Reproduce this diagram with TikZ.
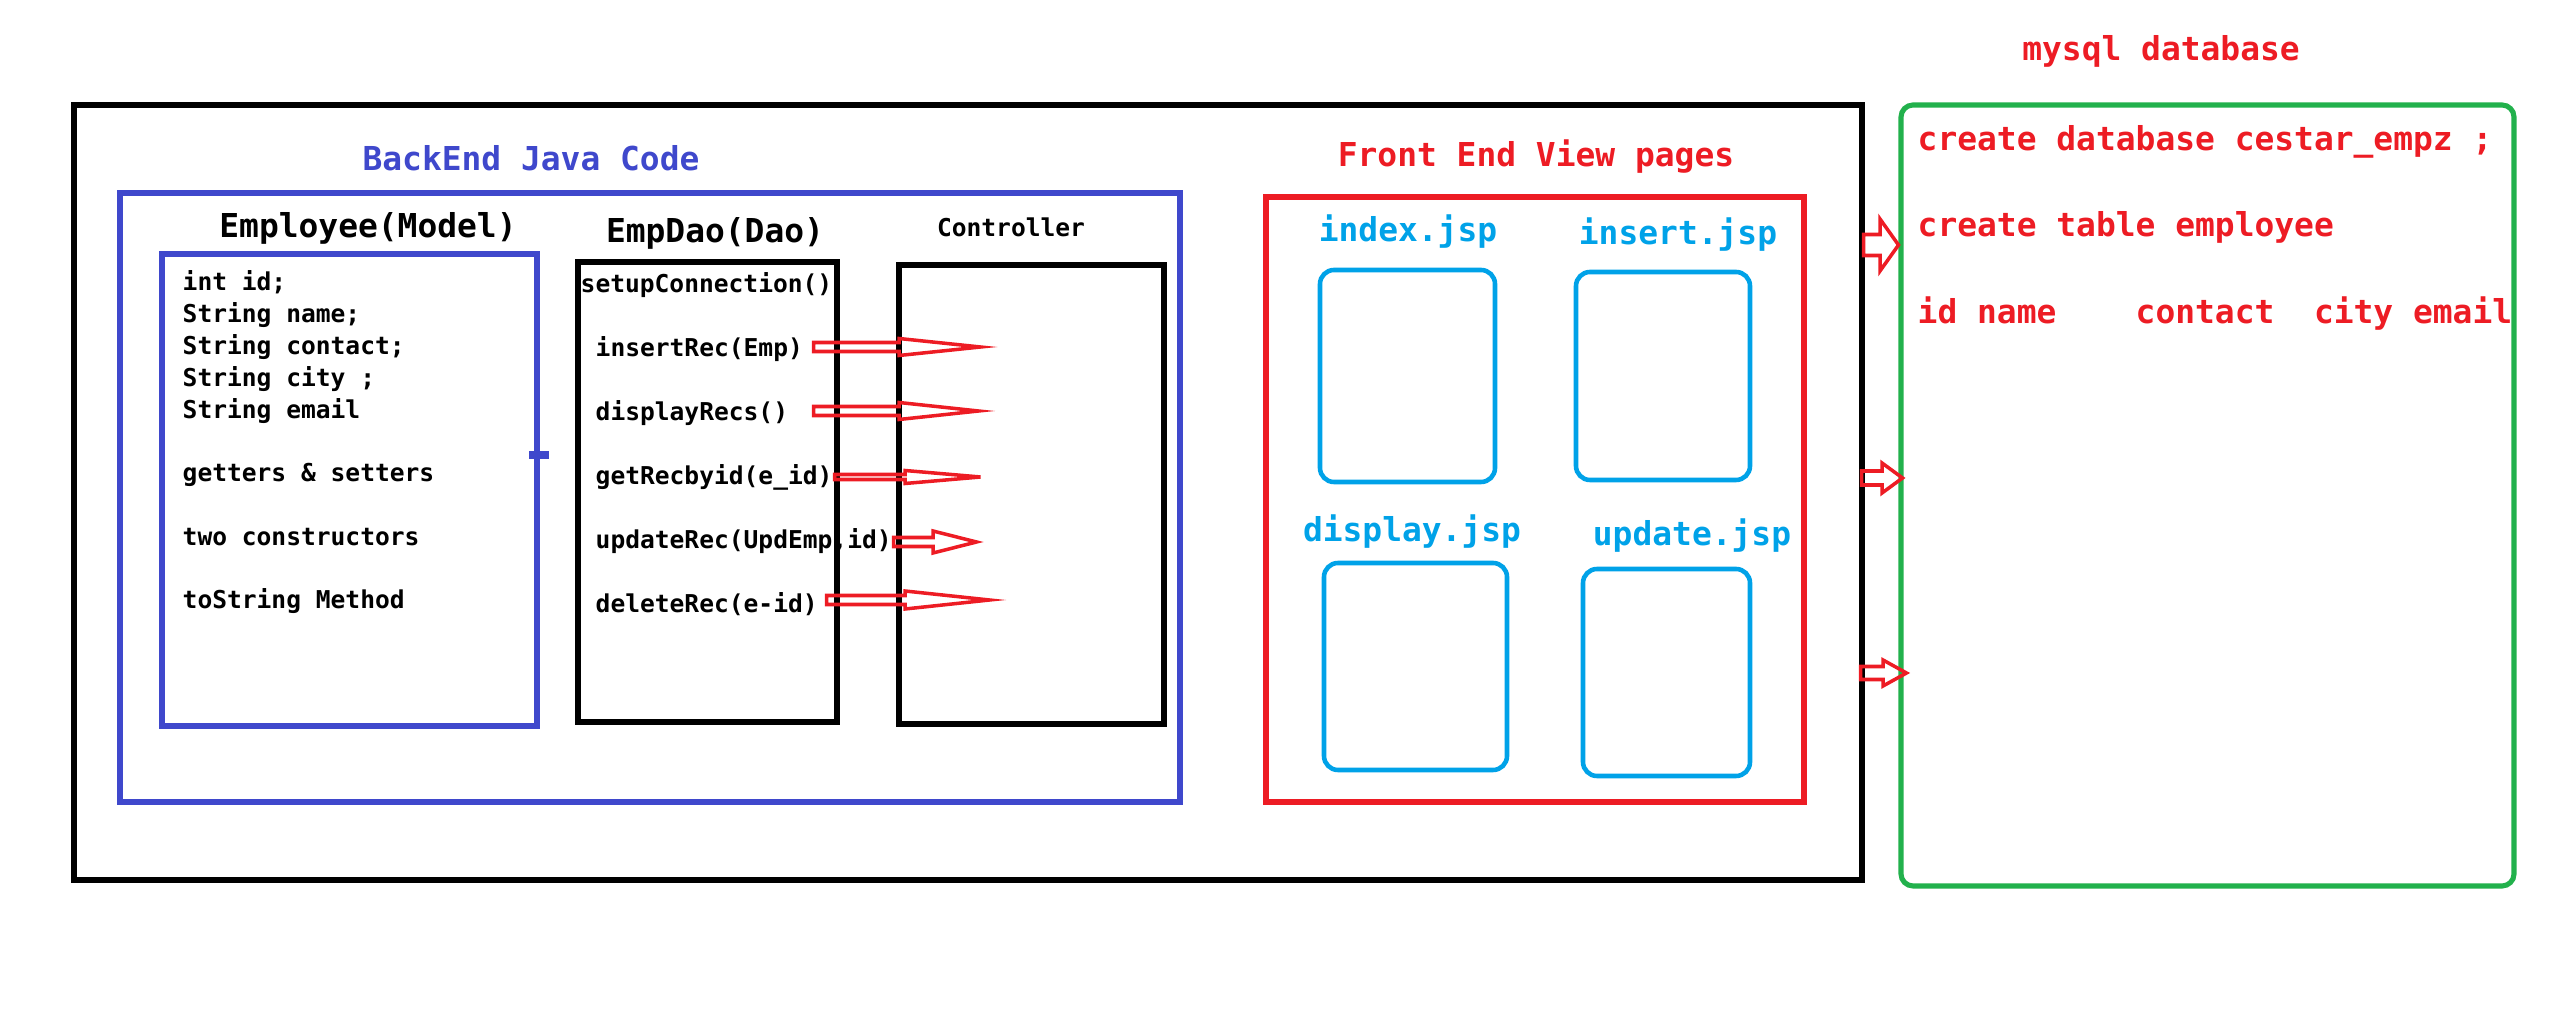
\documentclass[tikz,border=0pt]{standalone}
\usepackage{fontspec}
\newfontfamily\codefont{DejaVu Sans Mono}
\usepackage{tikz}
\definecolor{paintblue}{RGB}{63,72,204}
\definecolor{paintred}{RGB}{237,28,36}
\definecolor{paintcyan}{RGB}{0,162,232}
\definecolor{paintgreen}{RGB}{34,177,76}
\tikzset{
heading/.style={font=\codefont\bfseries\fontsize{9.36}{11}\selectfont, inner sep=0pt, anchor=base},
code/.style={font=\codefont\bfseries\fontsize{6.99}{9}\selectfont, inner sep=0pt, anchor=base west},
frame/.style={line width=1.45pt},
jsp page/.style={paintcyan, line width=1.3pt, rounded corners=0.14cm},
fat arrow/.style={paintred, line width=1pt, line join=miter},
}
% tail x, head x, tip x, y, half shaft, half head
\newcommand{\fatarrow}[6]{%
    \draw[fat arrow] (#1,#4-#5) -- (#2,#4-#5) -- (#2,#4-#6) -- (#3,#4)
        -- (#2,#4+#6) -- (#2,#4+#5) -- (#1,#4+#5) -- cycle;}

\begin{document}
\begin{tikzpicture}[
            x=0.01cm, y=-0.01cm,
            backend/.style={paintblue},
            frontend/.style={paintred}
        ]
        \useasboundingbox (0,0) rectangle (2554,1013);

        \draw[line width=1.75pt] (74,105) rectangle (1862,880);

        % back end
        \node[heading, backend] (backendtitle) at (531,171) {BackEnd Java Code};
        \draw[frame, backend] (120,193) rectangle (1180,802);

        \node[heading] (model) at (368,238) {Employee(Model)};
        \draw[frame, backend] (162,254) rectangle (537,726);
        \fill[backend] (529,451) rectangle (549,459);
        \foreach \txt/\row in {int id;/0, String name;/1, String contact;/2,
                String city ;/3, String email/4, getters \& setters/6,
                two constructors/8, toString Method/10}
            \node[code] (field\row) at (182,291+31.8*\row) {\txt};

        \node[heading] (dao) at (715,243) {EmpDao(Dao)};
        \draw[frame] (578,262) rectangle (837,722);
        \node[code] (setup) at (580,293) {setupConnection()};
        \foreach \m [count=\i] in {insertRec(Emp), displayRecs(), getRecbyid(e\_id),
                {updateRec(UpdEmp,id)}, deleteRec(e-id)}
            \node[code] (method\i) at (595,293+64*\i) {\m};

        \node[code, anchor=base] (ctrl) at (1011,237) {Controller};
        \draw[frame] (899,265) rectangle (1164,724);

        \fatarrow{813.5}{899}{980.5}{347}{4.5}{8.5}
        \fatarrow{813.5}{899}{978.5}{411}{4.5}{8.5}
        \fatarrow{834.5}{905}{980.5}{477}{2.5}{6.5}
        \fatarrow{893.5}{933}{976.5}{542}{4.5}{11}
        \fatarrow{826.5}{905}{989.5}{600}{4.5}{9}

        % front end
        \node[heading, frontend] (fronttitle) at (1536,167) {Front End View pages};
        \draw[frame, frontend] (1266,197) rectangle (1804,802);

        \node[heading, paintcyan] (index) at (1408,242) {index.jsp};
        \draw[jsp page] (1320,270) rectangle (1495,482);
        \node[heading, paintcyan] (insert) at (1678,245) {insert.jsp};
        \draw[jsp page] (1576,272) rectangle (1750,480);
        \node[heading, paintcyan] (display) at (1412,542) {display.jsp};
        \draw[jsp page] (1324,563) rectangle (1507,770);
        \node[heading, paintcyan] (update) at (1692,546) {update.jsp};
        \draw[jsp page] (1583,569) rectangle (1750,776);

        % database
        \node[heading, frontend] (mysql) at (2161,61) {mysql database};
        \draw[frame, paintgreen, rounded corners=0.12cm] (1901,105) rectangle (2514,886);
        \node[heading, frontend, anchor=base west] (createdb) at (1917,151)
            {create database cestar\_empz ;};
        \node[heading, frontend, anchor=base west] (createtbl) at (1917,237)
            {create table employee};
        \node[heading, frontend, anchor=base west] (columns) at (1917,324)
            {id name\ \ \ \ contact\ \ city email};

        \fatarrow{1863.5}{1880}{1898.5}{245}{10.5}{26}
        \fatarrow{1861.5}{1882}{1902.5}{478}{7}{15}
        \fatarrow{1860.5}{1883}{1906.5}{673}{6.5}{13}
    \end{tikzpicture}
\end{document}
